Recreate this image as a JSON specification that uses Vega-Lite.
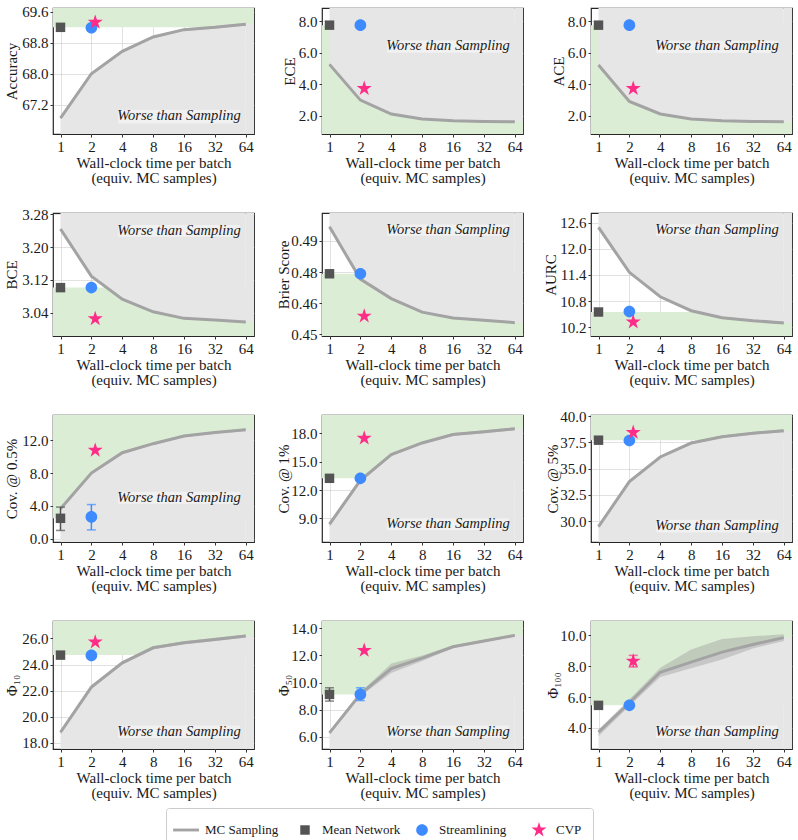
{
  "$schema": "https://vega.github.io/schema/vega-lite/v6.json",
  "padding": {"left": 3, "top": 4, "right": 5, "bottom": 4},
  "columns": 3,
  "bounds": "flush",
  "spacing": {"row": 79, "column": 68},
  "datasets": {
    "mc": [
      {"m": "acc", "x": 1, "y": 66.85, "lo": 66.82, "hi": 66.88},
      {"m": "acc", "x": 2, "y": 68.0, "lo": 67.97, "hi": 68.03},
      {"m": "acc", "x": 4, "y": 68.58, "lo": 68.55, "hi": 68.61},
      {"m": "acc", "x": 8, "y": 68.95, "lo": 68.92, "hi": 68.98},
      {"m": "acc", "x": 16, "y": 69.14, "lo": 69.11, "hi": 69.17},
      {"m": "acc", "x": 32, "y": 69.2, "lo": 69.17, "hi": 69.23},
      {"m": "acc", "x": 64, "y": 69.28, "lo": 69.25, "hi": 69.31},
      {"m": "ece", "x": 1, "y": 5.26, "lo": 5.21, "hi": 5.31},
      {"m": "ece", "x": 2, "y": 2.99, "lo": 2.94, "hi": 3.04},
      {"m": "ece", "x": 4, "y": 2.11, "lo": 2.06, "hi": 2.16},
      {"m": "ece", "x": 8, "y": 1.79, "lo": 1.74, "hi": 1.84},
      {"m": "ece", "x": 16, "y": 1.68, "lo": 1.63, "hi": 1.73},
      {"m": "ece", "x": 32, "y": 1.64, "lo": 1.59, "hi": 1.69},
      {"m": "ece", "x": 64, "y": 1.62, "lo": 1.57, "hi": 1.67},
      {"m": "ace", "x": 1, "y": 5.22, "lo": 5.17, "hi": 5.27},
      {"m": "ace", "x": 2, "y": 2.91, "lo": 2.86, "hi": 2.96},
      {"m": "ace", "x": 4, "y": 2.11, "lo": 2.06, "hi": 2.16},
      {"m": "ace", "x": 8, "y": 1.79, "lo": 1.74, "hi": 1.84},
      {"m": "ace", "x": 16, "y": 1.68, "lo": 1.63, "hi": 1.73},
      {"m": "ace", "x": 32, "y": 1.64, "lo": 1.59, "hi": 1.69},
      {"m": "ace", "x": 64, "y": 1.62, "lo": 1.57, "hi": 1.67},
      {"m": "bce", "x": 1, "y": 3.244, "lo": 3.242, "hi": 3.246},
      {"m": "bce", "x": 2, "y": 3.129, "lo": 3.127, "hi": 3.131},
      {"m": "bce", "x": 4, "y": 3.073, "lo": 3.071, "hi": 3.075},
      {"m": "bce", "x": 8, "y": 3.042, "lo": 3.04, "hi": 3.044},
      {"m": "bce", "x": 16, "y": 3.026, "lo": 3.024, "hi": 3.028},
      {"m": "bce", "x": 32, "y": 3.022, "lo": 3.02, "hi": 3.024},
      {"m": "bce", "x": 64, "y": 3.017, "lo": 3.015, "hi": 3.019},
      {"m": "brier", "x": 1, "y": 0.4957, "lo": 0.4953, "hi": 0.4961},
      {"m": "brier", "x": 2, "y": 0.4742, "lo": 0.4738, "hi": 0.4746},
      {"m": "brier", "x": 4, "y": 0.4662, "lo": 0.4658, "hi": 0.4666},
      {"m": "brier", "x": 8, "y": 0.4606, "lo": 0.4602, "hi": 0.461},
      {"m": "brier", "x": 16, "y": 0.4582, "lo": 0.4578, "hi": 0.4586},
      {"m": "brier", "x": 32, "y": 0.4573, "lo": 0.4569, "hi": 0.4577},
      {"m": "brier", "x": 64, "y": 0.4563, "lo": 0.4559, "hi": 0.4567},
      {"m": "aurc", "x": 1, "y": 12.49, "lo": 12.465, "hi": 12.515},
      {"m": "aurc", "x": 2, "y": 11.46, "lo": 11.435, "hi": 11.485},
      {"m": "aurc", "x": 4, "y": 10.9, "lo": 10.875, "hi": 10.925},
      {"m": "aurc", "x": 8, "y": 10.58, "lo": 10.555, "hi": 10.605},
      {"m": "aurc", "x": 16, "y": 10.42, "lo": 10.395, "hi": 10.445},
      {"m": "aurc", "x": 32, "y": 10.35, "lo": 10.325, "hi": 10.375},
      {"m": "aurc", "x": 64, "y": 10.3, "lo": 10.275, "hi": 10.325},
      {"m": "cov05", "x": 1, "y": 3.66, "lo": 3.51, "hi": 3.81},
      {"m": "cov05", "x": 2, "y": 8.0, "lo": 7.85, "hi": 8.15},
      {"m": "cov05", "x": 4, "y": 10.49, "lo": 10.34, "hi": 10.64},
      {"m": "cov05", "x": 8, "y": 11.59, "lo": 11.44, "hi": 11.74},
      {"m": "cov05", "x": 16, "y": 12.53, "lo": 12.38, "hi": 12.68},
      {"m": "cov05", "x": 32, "y": 12.94, "lo": 12.79, "hi": 13.09},
      {"m": "cov05", "x": 64, "y": 13.3, "lo": 13.15, "hi": 13.45},
      {"m": "cov1", "x": 1, "y": 8.4, "lo": 8.1, "hi": 8.6},
      {"m": "cov1", "x": 2, "y": 13.03, "lo": 12.85, "hi": 13.2},
      {"m": "cov1", "x": 4, "y": 15.76, "lo": 15.61, "hi": 15.91},
      {"m": "cov1", "x": 8, "y": 17.0, "lo": 16.85, "hi": 17.15},
      {"m": "cov1", "x": 16, "y": 17.9, "lo": 17.75, "hi": 18.05},
      {"m": "cov1", "x": 32, "y": 18.18, "lo": 18.03, "hi": 18.33},
      {"m": "cov1", "x": 64, "y": 18.5, "lo": 18.35, "hi": 18.65},
      {"m": "cov5", "x": 1, "y": 29.47, "lo": 29.3, "hi": 29.62},
      {"m": "cov5", "x": 2, "y": 33.75, "lo": 33.63, "hi": 33.87},
      {"m": "cov5", "x": 4, "y": 36.1, "lo": 35.98, "hi": 36.22},
      {"m": "cov5", "x": 8, "y": 37.43, "lo": 37.31, "hi": 37.55},
      {"m": "cov5", "x": 16, "y": 38.03, "lo": 37.91, "hi": 38.15},
      {"m": "cov5", "x": 32, "y": 38.36, "lo": 38.24, "hi": 38.48},
      {"m": "cov5", "x": 64, "y": 38.6, "lo": 38.45, "hi": 38.75},
      {"m": "phi10", "x": 1, "y": 18.82, "lo": 18.65, "hi": 18.97},
      {"m": "phi10", "x": 2, "y": 22.27, "lo": 22.12, "hi": 22.42},
      {"m": "phi10", "x": 4, "y": 24.13, "lo": 24.01, "hi": 24.25},
      {"m": "phi10", "x": 8, "y": 25.28, "lo": 25.16, "hi": 25.4},
      {"m": "phi10", "x": 16, "y": 25.67, "lo": 25.55, "hi": 25.79},
      {"m": "phi10", "x": 32, "y": 25.92, "lo": 25.8, "hi": 26.04},
      {"m": "phi10", "x": 64, "y": 26.18, "lo": 26.06, "hi": 26.3},
      {"m": "phi50", "x": 1, "y": 6.3, "lo": 6.2, "hi": 6.4},
      {"m": "phi50", "x": 2, "y": 9.16, "lo": 9.0, "hi": 9.3},
      {"m": "phi50", "x": 4, "y": 11.03, "lo": 10.7, "hi": 11.4},
      {"m": "phi50", "x": 8, "y": 11.8, "lo": 11.6, "hi": 12.0},
      {"m": "phi50", "x": 16, "y": 12.64, "lo": 12.55, "hi": 12.75},
      {"m": "phi50", "x": 32, "y": 13.06, "lo": 12.98, "hi": 13.15},
      {"m": "phi50", "x": 64, "y": 13.48, "lo": 13.4, "hi": 13.57},
      {"m": "phi100", "x": 1, "y": 3.72, "lo": 3.46, "hi": 3.9},
      {"m": "phi100", "x": 2, "y": 5.63, "lo": 5.42, "hi": 5.85},
      {"m": "phi100", "x": 4, "y": 7.61, "lo": 7.3, "hi": 7.9},
      {"m": "phi100", "x": 8, "y": 8.26, "lo": 7.87, "hi": 9.08},
      {"m": "phi100", "x": 16, "y": 8.91, "lo": 8.43, "hi": 9.77},
      {"m": "phi100", "x": 32, "y": 9.41, "lo": 9.15, "hi": 9.94},
      {"m": "phi100", "x": 64, "y": 9.85, "lo": 9.63, "hi": 10.07}
    ],
    "pts": [
      {"m": "acc", "s": "Mean Network", "x": 1, "y": 69.2},
      {"m": "acc", "s": "Streamlining", "x": 2, "y": 69.19},
      {"m": "acc", "s": "CVP", "x": 2.18, "y": 69.33},
      {"m": "ece", "s": "Mean Network", "x": 1, "y": 7.75},
      {"m": "ece", "s": "Streamlining", "x": 2, "y": 7.75},
      {"m": "ece", "s": "CVP", "x": 2.18, "y": 3.73},
      {"m": "ace", "s": "Mean Network", "x": 1, "y": 7.75},
      {"m": "ace", "s": "Streamlining", "x": 2, "y": 7.75},
      {"m": "ace", "s": "CVP", "x": 2.18, "y": 3.73},
      {"m": "bce", "s": "Mean Network", "x": 1, "y": 3.101},
      {"m": "bce", "s": "Streamlining", "x": 2, "y": 3.101},
      {"m": "bce", "s": "CVP", "x": 2.18, "y": 3.025},
      {"m": "brier", "s": "Mean Network", "x": 1, "y": 0.4764},
      {"m": "brier", "s": "Streamlining", "x": 2, "y": 0.4764},
      {"m": "brier", "s": "CVP", "x": 2.18, "y": 0.459},
      {"m": "aurc", "s": "Mean Network", "x": 1, "y": 10.55},
      {"m": "aurc", "s": "Streamlining", "x": 2, "y": 10.56},
      {"m": "aurc", "s": "CVP", "x": 2.18, "y": 10.32},
      {"m": "cov05", "s": "Mean Network", "x": 1, "y": 2.48, "lo": 1.0, "hi": 3.85},
      {"m": "cov05", "s": "Streamlining", "x": 2, "y": 2.65, "lo": 1.07, "hi": 4.16},
      {"m": "cov05", "s": "CVP", "x": 2.18, "y": 10.78},
      {"m": "cov1", "s": "Mean Network", "x": 1, "y": 13.25},
      {"m": "cov1", "s": "Streamlining", "x": 2, "y": 13.25},
      {"m": "cov1", "s": "CVP", "x": 2.18, "y": 17.5},
      {"m": "cov5", "s": "Mean Network", "x": 1, "y": 37.7},
      {"m": "cov5", "s": "Streamlining", "x": 2, "y": 37.67},
      {"m": "cov5", "s": "CVP", "x": 2.18, "y": 38.43},
      {"m": "phi10", "s": "Mean Network", "x": 1, "y": 24.72},
      {"m": "phi10", "s": "Streamlining", "x": 2, "y": 24.7},
      {"m": "phi10", "s": "CVP", "x": 2.18, "y": 25.72},
      {"m": "phi50", "s": "Mean Network", "x": 1, "y": 9.13, "lo": 8.64, "hi": 9.62},
      {"m": "phi50", "s": "Streamlining", "x": 2, "y": 9.13, "lo": 8.68, "hi": 9.62},
      {"m": "phi50", "s": "CVP", "x": 2.18, "y": 12.37},
      {"m": "phi100", "s": "Mean Network", "x": 1, "y": 5.46},
      {"m": "phi100", "s": "Streamlining", "x": 2, "y": 5.46},
      {"m": "phi100", "s": "CVP", "x": 2.18, "y": 8.33, "lo": 7.95, "hi": 8.7}
    ]
  },
  "concat": [
    {
      "width": 201, "height": 126,
      "encoding": {
        "x": {"field": "x", "type": "quantitative", "scale": {"type": "log", "base": 2, "domain": [0.845, 77], "nice": false}, "axis": {"values": [1, 2, 4, 8, 16, 32, 64], "format": "d", "title": ["Wall-clock time per batch", "(equiv. MC samples)"]}},
        "y": {"field": "y", "type": "quantitative", "scale": {"domain": [66.44, 69.7], "nice": false, "zero": false}, "axis": {"values": [67.2, 68.0, 68.8, 69.6], "format": ".1f", "title": "Accuracy", "minExtent": 30, "maxExtent": 30, "titlePadding": 3.5}}
      },
      "layer": [
        {"data": {"name": "pts"}, "transform": [{"filter": "datum.m == 'acc' && datum.s == 'Mean Network'"}], "mark": {"type": "rect", "color": "#dcedd6"}, "encoding": {"x": {"datum": 0.845}, "x2": {"datum": 77}, "y2": {"datum": 69.7}}},
        {"data": {"name": "mc"}, "transform": [{"filter": "datum.m == 'acc'"}], "mark": {"type": "area", "color": "#e6e6e6", "opacity": 1}, "encoding": {"y2": {"datum": 66.44}}},
        {"data": {"name": "mc"}, "transform": [{"filter": "datum.m == 'acc' && datum.x == 64"}], "mark": {"type": "rect", "color": "#e6e6e6"}, "encoding": {"x2": {"datum": 77}, "y2": {"datum": 66.44}}},
        {"data": {"name": "mc"}, "transform": [{"filter": "datum.m == 'acc' && datum.x == 64"}], "mark": {"type": "rect", "color": "#ffffff", "opacity": 0.45}, "encoding": {"x": {"datum": 3.65}, "x2": {"datum": 56}, "y": {"datum": 66.71}, "y2": {"datum": 67.07}}},
        {"data": {"name": "mc"}, "transform": [{"filter": "datum.m == 'acc' && datum.x == 64"}], "mark": {"type": "text", "font": "Liberation Serif", "fontStyle": "italic", "fontSize": 14.5, "color": "#1a1a1a"}, "encoding": {"x": {"datum": 14.3}, "y": {"datum": 66.9}, "text": {"value": "Worse than Sampling"}}},
        {"data": {"name": "mc"}, "transform": [{"filter": "datum.m == 'acc'"}], "mark": {"type": "area", "color": "#8c8c8c", "opacity": 0.35}, "encoding": {"y": {"field": "lo", "type": "quantitative"}, "y2": {"field": "hi"}}},
        {"data": {"name": "mc"}, "transform": [{"filter": "datum.m == 'acc'"}], "mark": {"type": "line", "color": "#a3a3a3", "strokeWidth": 3}, "encoding": {}},
        {"data": {"name": "pts"}, "transform": [{"filter": "datum.m == 'acc'"}], "mark": {"type": "point", "filled": true, "opacity": 1, "size": 484},
          "encoding": {
            "color": {"field": "s", "type": "nominal", "scale": {"domain": ["MC Sampling", "Mean Network", "Streamlining", "CVP"], "range": ["#a3a3a3", "#545454", "#3d8bff", "#ff2d87"]},
              "legend": {"orient": "none", "legendX": 113, "legendY": 800, "direction": "horizontal", "columns": 4, "gridAlign": "all", "title": null, "labelFontSize": 13, "labelOffset": 6, "columnPadding": 10, "padding": 11, "strokeColor": "#cccccc", "fillColor": "#ffffff", "cornerRadius": 3, "symbolSize": 484, "symbolStrokeWidth": 0, "symbolOpacity": 1}},
            "shape": {"field": "s", "type": "nominal", "scale": {"domain": ["MC Sampling", "Mean Network", "Streamlining", "CVP"], "range": ["M-1.35,-0.13H1V0.13H-1.35Z", "M-0.43,-0.43H0.43V0.43H-0.43Z", "M0.53,0A0.53,0.53,0,1,1,-0.53,0A0.53,0.53,0,1,1,0.53,0Z", "M0,-0.72L0.162,-0.222L0.685,-0.222L0.262,0.085L0.423,0.582L0,0.275L-0.423,0.582L-0.262,0.085L-0.685,-0.222L-0.162,-0.222Z"]},
              "legend": {"orient": "none", "legendX": 113, "legendY": 800, "direction": "horizontal", "columns": 4, "gridAlign": "all", "title": null, "labelFontSize": 13, "labelOffset": 6, "columnPadding": 10, "padding": 11, "strokeColor": "#cccccc", "fillColor": "#ffffff", "cornerRadius": 3, "symbolSize": 484, "symbolStrokeWidth": 0, "symbolOpacity": 1}}
          }}
      ]
    },
    {
      "width": 201, "height": 126,
      "encoding": {
        "x": {"field": "x", "type": "quantitative", "scale": {"type": "log", "base": 2, "domain": [0.845, 77], "nice": false}, "axis": {"values": [1, 2, 4, 8, 16, 32, 64], "format": "d", "title": ["Wall-clock time per batch", "(equiv. MC samples)"]}},
        "y": {"field": "y", "type": "quantitative", "scale": {"domain": [0.84, 8.84], "nice": false, "zero": false}, "axis": {"values": [2, 4, 6, 8], "format": ".1f", "title": "ECE", "minExtent": 23, "maxExtent": 23, "titlePadding": 2}}
      },
      "layer": [
        {"data": {"name": "pts"}, "transform": [{"filter": "datum.m == 'ece' && datum.s == 'Mean Network'"}], "mark": {"type": "rect", "color": "#dcedd6"}, "encoding": {"x": {"datum": 0.845}, "x2": {"datum": 77}, "y2": {"datum": 0.84}}},
        {"data": {"name": "mc"}, "transform": [{"filter": "datum.m == 'ece'"}], "mark": {"type": "area", "color": "#e6e6e6", "opacity": 1}, "encoding": {"y2": {"datum": 8.84}}},
        {"data": {"name": "mc"}, "transform": [{"filter": "datum.m == 'ece' && datum.x == 64"}], "mark": {"type": "rect", "color": "#e6e6e6"}, "encoding": {"x2": {"datum": 77}, "y2": {"datum": 8.84}}},
        {"data": {"name": "mc"}, "transform": [{"filter": "datum.m == 'ece' && datum.x == 64"}], "mark": {"type": "rect", "color": "#ffffff", "opacity": 0.45}, "encoding": {"x": {"datum": 3.65}, "x2": {"datum": 56}, "y": {"datum": 6.0}, "y2": {"datum": 6.78}}},
        {"data": {"name": "mc"}, "transform": [{"filter": "datum.m == 'ece' && datum.x == 64"}], "mark": {"type": "text", "font": "Liberation Serif", "fontStyle": "italic", "fontSize": 14.5, "color": "#1a1a1a"}, "encoding": {"x": {"datum": 14.3}, "y": {"datum": 6.42}, "text": {"value": "Worse than Sampling"}}},
        {"data": {"name": "mc"}, "transform": [{"filter": "datum.m == 'ece'"}], "mark": {"type": "area", "color": "#8c8c8c", "opacity": 0.35}, "encoding": {"y": {"field": "lo", "type": "quantitative"}, "y2": {"field": "hi"}}},
        {"data": {"name": "mc"}, "transform": [{"filter": "datum.m == 'ece'"}], "mark": {"type": "line", "color": "#a3a3a3", "strokeWidth": 3}, "encoding": {}},
        {"data": {"name": "pts"}, "transform": [{"filter": "datum.m == 'ece'"}], "mark": {"type": "point", "filled": true, "opacity": 1, "size": 484},
          "encoding": {
            "color": {"field": "s", "type": "nominal", "scale": {"domain": ["MC Sampling", "Mean Network", "Streamlining", "CVP"], "range": ["#a3a3a3", "#545454", "#3d8bff", "#ff2d87"]}, "legend": null},
            "shape": {"field": "s", "type": "nominal", "scale": {"domain": ["MC Sampling", "Mean Network", "Streamlining", "CVP"], "range": ["M-1.35,-0.13H1V0.13H-1.35Z", "M-0.43,-0.43H0.43V0.43H-0.43Z", "M0.53,0A0.53,0.53,0,1,1,-0.53,0A0.53,0.53,0,1,1,0.53,0Z", "M0,-0.72L0.162,-0.222L0.685,-0.222L0.262,0.085L0.423,0.582L0,0.275L-0.423,0.582L-0.262,0.085L-0.685,-0.222L-0.162,-0.222Z"]}, "legend": null}
          }}
      ]
    },
    {
      "width": 201, "height": 126,
      "encoding": {
        "x": {"field": "x", "type": "quantitative", "scale": {"type": "log", "base": 2, "domain": [0.845, 77], "nice": false}, "axis": {"values": [1, 2, 4, 8, 16, 32, 64], "format": "d", "title": ["Wall-clock time per batch", "(equiv. MC samples)"]}},
        "y": {"field": "y", "type": "quantitative", "scale": {"domain": [0.84, 8.84], "nice": false, "zero": false}, "axis": {"values": [2, 4, 6, 8], "format": ".1f", "title": "ACE", "minExtent": 23, "maxExtent": 23, "titlePadding": 2}}
      },
      "layer": [
        {"data": {"name": "pts"}, "transform": [{"filter": "datum.m == 'ace' && datum.s == 'Mean Network'"}], "mark": {"type": "rect", "color": "#dcedd6"}, "encoding": {"x": {"datum": 0.845}, "x2": {"datum": 77}, "y2": {"datum": 0.84}}},
        {"data": {"name": "mc"}, "transform": [{"filter": "datum.m == 'ace'"}], "mark": {"type": "area", "color": "#e6e6e6", "opacity": 1}, "encoding": {"y2": {"datum": 8.84}}},
        {"data": {"name": "mc"}, "transform": [{"filter": "datum.m == 'ace' && datum.x == 64"}], "mark": {"type": "rect", "color": "#e6e6e6"}, "encoding": {"x2": {"datum": 77}, "y2": {"datum": 8.84}}},
        {"data": {"name": "mc"}, "transform": [{"filter": "datum.m == 'ace' && datum.x == 64"}], "mark": {"type": "rect", "color": "#ffffff", "opacity": 0.45}, "encoding": {"x": {"datum": 3.65}, "x2": {"datum": 56}, "y": {"datum": 5.98}, "y2": {"datum": 6.76}}},
        {"data": {"name": "mc"}, "transform": [{"filter": "datum.m == 'ace' && datum.x == 64"}], "mark": {"type": "text", "font": "Liberation Serif", "fontStyle": "italic", "fontSize": 14.5, "color": "#1a1a1a"}, "encoding": {"x": {"datum": 14.3}, "y": {"datum": 6.4}, "text": {"value": "Worse than Sampling"}}},
        {"data": {"name": "mc"}, "transform": [{"filter": "datum.m == 'ace'"}], "mark": {"type": "area", "color": "#8c8c8c", "opacity": 0.35}, "encoding": {"y": {"field": "lo", "type": "quantitative"}, "y2": {"field": "hi"}}},
        {"data": {"name": "mc"}, "transform": [{"filter": "datum.m == 'ace'"}], "mark": {"type": "line", "color": "#a3a3a3", "strokeWidth": 3}, "encoding": {}},
        {"data": {"name": "pts"}, "transform": [{"filter": "datum.m == 'ace'"}], "mark": {"type": "point", "filled": true, "opacity": 1, "size": 484},
          "encoding": {
            "color": {"field": "s", "type": "nominal", "scale": {"domain": ["MC Sampling", "Mean Network", "Streamlining", "CVP"], "range": ["#a3a3a3", "#545454", "#3d8bff", "#ff2d87"]}, "legend": null},
            "shape": {"field": "s", "type": "nominal", "scale": {"domain": ["MC Sampling", "Mean Network", "Streamlining", "CVP"], "range": ["M-1.35,-0.13H1V0.13H-1.35Z", "M-0.43,-0.43H0.43V0.43H-0.43Z", "M0.53,0A0.53,0.53,0,1,1,-0.53,0A0.53,0.53,0,1,1,0.53,0Z", "M0,-0.72L0.162,-0.222L0.685,-0.222L0.262,0.085L0.423,0.582L0,0.275L-0.423,0.582L-0.262,0.085L-0.685,-0.222L-0.162,-0.222Z"]}, "legend": null}
          }}
      ]
    },
    {
      "width": 201, "height": 123,
      "encoding": {
        "x": {"field": "x", "type": "quantitative", "scale": {"type": "log", "base": 2, "domain": [0.845, 77], "nice": false}, "axis": {"values": [1, 2, 4, 8, 16, 32, 64], "format": "d", "title": ["Wall-clock time per batch", "(equiv. MC samples)"]}},
        "y": {"field": "y", "type": "quantitative", "scale": {"domain": [2.983, 3.283], "nice": false, "zero": false}, "axis": {"values": [3.04, 3.12, 3.2, 3.28], "format": ".2f", "title": "BCE", "minExtent": 30, "maxExtent": 30, "titlePadding": 3.5}}
      },
      "layer": [
        {"data": {"name": "pts"}, "transform": [{"filter": "datum.m == 'bce' && datum.s == 'Mean Network'"}], "mark": {"type": "rect", "color": "#dcedd6"}, "encoding": {"x": {"datum": 0.845}, "x2": {"datum": 77}, "y2": {"datum": 2.983}}},
        {"data": {"name": "mc"}, "transform": [{"filter": "datum.m == 'bce'"}], "mark": {"type": "area", "color": "#e6e6e6", "opacity": 1}, "encoding": {"y2": {"datum": 3.283}}},
        {"data": {"name": "mc"}, "transform": [{"filter": "datum.m == 'bce' && datum.x == 64"}], "mark": {"type": "rect", "color": "#e6e6e6"}, "encoding": {"x2": {"datum": 77}, "y2": {"datum": 3.283}}},
        {"data": {"name": "mc"}, "transform": [{"filter": "datum.m == 'bce' && datum.x == 64"}], "mark": {"type": "rect", "color": "#ffffff", "opacity": 0.45}, "encoding": {"x": {"datum": 3.65}, "x2": {"datum": 56}, "y": {"datum": 3.225}, "y2": {"datum": 3.254}}},
        {"data": {"name": "mc"}, "transform": [{"filter": "datum.m == 'bce' && datum.x == 64"}], "mark": {"type": "text", "font": "Liberation Serif", "fontStyle": "italic", "fontSize": 14.5, "color": "#1a1a1a"}, "encoding": {"x": {"datum": 14.3}, "y": {"datum": 3.24}, "text": {"value": "Worse than Sampling"}}},
        {"data": {"name": "mc"}, "transform": [{"filter": "datum.m == 'bce'"}], "mark": {"type": "area", "color": "#8c8c8c", "opacity": 0.35}, "encoding": {"y": {"field": "lo", "type": "quantitative"}, "y2": {"field": "hi"}}},
        {"data": {"name": "mc"}, "transform": [{"filter": "datum.m == 'bce'"}], "mark": {"type": "line", "color": "#a3a3a3", "strokeWidth": 3}, "encoding": {}},
        {"data": {"name": "pts"}, "transform": [{"filter": "datum.m == 'bce'"}], "mark": {"type": "point", "filled": true, "opacity": 1, "size": 484},
          "encoding": {
            "color": {"field": "s", "type": "nominal", "scale": {"domain": ["MC Sampling", "Mean Network", "Streamlining", "CVP"], "range": ["#a3a3a3", "#545454", "#3d8bff", "#ff2d87"]}, "legend": null},
            "shape": {"field": "s", "type": "nominal", "scale": {"domain": ["MC Sampling", "Mean Network", "Streamlining", "CVP"], "range": ["M-1.35,-0.13H1V0.13H-1.35Z", "M-0.43,-0.43H0.43V0.43H-0.43Z", "M0.53,0A0.53,0.53,0,1,1,-0.53,0A0.53,0.53,0,1,1,0.53,0Z", "M0,-0.72L0.162,-0.222L0.685,-0.222L0.262,0.085L0.423,0.582L0,0.275L-0.423,0.582L-0.262,0.085L-0.685,-0.222L-0.162,-0.222Z"]}, "legend": null}
          }}
      ]
    },
    {
      "width": 201, "height": 123,
      "encoding": {
        "x": {"field": "x", "type": "quantitative", "scale": {"type": "log", "base": 2, "domain": [0.845, 77], "nice": false}, "axis": {"values": [1, 2, 4, 8, 16, 32, 64], "format": "d", "title": ["Wall-clock time per batch", "(equiv. MC samples)"]}},
        "y": {"field": "y", "type": "quantitative", "scale": {"domain": [0.4508, 0.5014], "nice": false, "zero": false}, "axis": {"values": [0.4515, 0.4643, 0.4771, 0.4899], "format": ".2f", "title": "Brier Score", "minExtent": 29, "maxExtent": 29, "titlePadding": 2}}
      },
      "layer": [
        {"data": {"name": "pts"}, "transform": [{"filter": "datum.m == 'brier' && datum.s == 'Mean Network'"}], "mark": {"type": "rect", "color": "#dcedd6"}, "encoding": {"x": {"datum": 0.845}, "x2": {"datum": 77}, "y2": {"datum": 0.4508}}},
        {"data": {"name": "mc"}, "transform": [{"filter": "datum.m == 'brier'"}], "mark": {"type": "area", "color": "#e6e6e6", "opacity": 1}, "encoding": {"y2": {"datum": 0.5014}}},
        {"data": {"name": "mc"}, "transform": [{"filter": "datum.m == 'brier' && datum.x == 64"}], "mark": {"type": "rect", "color": "#e6e6e6"}, "encoding": {"x2": {"datum": 77}, "y2": {"datum": 0.5014}}},
        {"data": {"name": "mc"}, "transform": [{"filter": "datum.m == 'brier' && datum.x == 64"}], "mark": {"type": "rect", "color": "#ffffff", "opacity": 0.45}, "encoding": {"x": {"datum": 3.65}, "x2": {"datum": 56}, "y": {"datum": 0.492}, "y2": {"datum": 0.4967}}},
        {"data": {"name": "mc"}, "transform": [{"filter": "datum.m == 'brier' && datum.x == 64"}], "mark": {"type": "text", "font": "Liberation Serif", "fontStyle": "italic", "fontSize": 14.5, "color": "#1a1a1a"}, "encoding": {"x": {"datum": 14.3}, "y": {"datum": 0.4945}, "text": {"value": "Worse than Sampling"}}},
        {"data": {"name": "mc"}, "transform": [{"filter": "datum.m == 'brier'"}], "mark": {"type": "area", "color": "#8c8c8c", "opacity": 0.35}, "encoding": {"y": {"field": "lo", "type": "quantitative"}, "y2": {"field": "hi"}}},
        {"data": {"name": "mc"}, "transform": [{"filter": "datum.m == 'brier'"}], "mark": {"type": "line", "color": "#a3a3a3", "strokeWidth": 3}, "encoding": {}},
        {"data": {"name": "pts"}, "transform": [{"filter": "datum.m == 'brier'"}], "mark": {"type": "point", "filled": true, "opacity": 1, "size": 484},
          "encoding": {
            "color": {"field": "s", "type": "nominal", "scale": {"domain": ["MC Sampling", "Mean Network", "Streamlining", "CVP"], "range": ["#a3a3a3", "#545454", "#3d8bff", "#ff2d87"]}, "legend": null},
            "shape": {"field": "s", "type": "nominal", "scale": {"domain": ["MC Sampling", "Mean Network", "Streamlining", "CVP"], "range": ["M-1.35,-0.13H1V0.13H-1.35Z", "M-0.43,-0.43H0.43V0.43H-0.43Z", "M0.53,0A0.53,0.53,0,1,1,-0.53,0A0.53,0.53,0,1,1,0.53,0Z", "M0,-0.72L0.162,-0.222L0.685,-0.222L0.262,0.085L0.423,0.582L0,0.275L-0.423,0.582L-0.262,0.085L-0.685,-0.222L-0.162,-0.222Z"]}, "legend": null}
          }}
      ]
    },
    {
      "width": 201, "height": 123,
      "encoding": {
        "x": {"field": "x", "type": "quantitative", "scale": {"type": "log", "base": 2, "domain": [0.845, 77], "nice": false}, "axis": {"values": [1, 2, 4, 8, 16, 32, 64], "format": "d", "title": ["Wall-clock time per batch", "(equiv. MC samples)"]}},
        "y": {"field": "y", "type": "quantitative", "scale": {"domain": [10.0, 12.82], "nice": false, "zero": false}, "axis": {"values": [10.2, 10.8, 11.4, 12.0, 12.6], "format": ".1f", "title": "AURC", "minExtent": 31, "maxExtent": 31, "titlePadding": 2}}
      },
      "layer": [
        {"data": {"name": "pts"}, "transform": [{"filter": "datum.m == 'aurc' && datum.s == 'Mean Network'"}], "mark": {"type": "rect", "color": "#dcedd6"}, "encoding": {"x": {"datum": 0.845}, "x2": {"datum": 77}, "y2": {"datum": 10.0}}},
        {"data": {"name": "mc"}, "transform": [{"filter": "datum.m == 'aurc'"}], "mark": {"type": "area", "color": "#e6e6e6", "opacity": 1}, "encoding": {"y2": {"datum": 12.82}}},
        {"data": {"name": "mc"}, "transform": [{"filter": "datum.m == 'aurc' && datum.x == 64"}], "mark": {"type": "rect", "color": "#e6e6e6"}, "encoding": {"x2": {"datum": 77}, "y2": {"datum": 12.82}}},
        {"data": {"name": "mc"}, "transform": [{"filter": "datum.m == 'aurc' && datum.x == 64"}], "mark": {"type": "rect", "color": "#ffffff", "opacity": 0.45}, "encoding": {"x": {"datum": 3.65}, "x2": {"datum": 56}, "y": {"datum": 12.3}, "y2": {"datum": 12.56}}},
        {"data": {"name": "mc"}, "transform": [{"filter": "datum.m == 'aurc' && datum.x == 64"}], "mark": {"type": "text", "font": "Liberation Serif", "fontStyle": "italic", "fontSize": 14.5, "color": "#1a1a1a"}, "encoding": {"x": {"datum": 14.3}, "y": {"datum": 12.44}, "text": {"value": "Worse than Sampling"}}},
        {"data": {"name": "mc"}, "transform": [{"filter": "datum.m == 'aurc'"}], "mark": {"type": "area", "color": "#8c8c8c", "opacity": 0.35}, "encoding": {"y": {"field": "lo", "type": "quantitative"}, "y2": {"field": "hi"}}},
        {"data": {"name": "mc"}, "transform": [{"filter": "datum.m == 'aurc'"}], "mark": {"type": "line", "color": "#a3a3a3", "strokeWidth": 3}, "encoding": {}},
        {"data": {"name": "pts"}, "transform": [{"filter": "datum.m == 'aurc'"}], "mark": {"type": "point", "filled": true, "opacity": 1, "size": 484},
          "encoding": {
            "color": {"field": "s", "type": "nominal", "scale": {"domain": ["MC Sampling", "Mean Network", "Streamlining", "CVP"], "range": ["#a3a3a3", "#545454", "#3d8bff", "#ff2d87"]}, "legend": null},
            "shape": {"field": "s", "type": "nominal", "scale": {"domain": ["MC Sampling", "Mean Network", "Streamlining", "CVP"], "range": ["M-1.35,-0.13H1V0.13H-1.35Z", "M-0.43,-0.43H0.43V0.43H-0.43Z", "M0.53,0A0.53,0.53,0,1,1,-0.53,0A0.53,0.53,0,1,1,0.53,0Z", "M0,-0.72L0.162,-0.222L0.685,-0.222L0.262,0.085L0.423,0.582L0,0.275L-0.423,0.582L-0.262,0.085L-0.685,-0.222L-0.162,-0.222Z"]}, "legend": null}
          }}
      ]
    },
    {
      "width": 201, "height": 127,
      "encoding": {
        "x": {"field": "x", "type": "quantitative", "scale": {"type": "log", "base": 2, "domain": [0.845, 77], "nice": false}, "axis": {"values": [1, 2, 4, 8, 16, 32, 64], "format": "d", "title": ["Wall-clock time per batch", "(equiv. MC samples)"]}},
        "y": {"field": "y", "type": "quantitative", "scale": {"domain": [-0.41, 15.09], "nice": false, "zero": false}, "axis": {"values": [0, 4, 8, 12], "format": ".1f", "title": "Cov. @ 0.5%", "minExtent": 30, "maxExtent": 30, "titlePadding": 3.5}}
      },
      "layer": [
        {"data": {"name": "pts"}, "transform": [{"filter": "datum.m == 'cov05' && datum.s == 'Mean Network'"}], "mark": {"type": "rect", "color": "#dcedd6"}, "encoding": {"x": {"datum": 0.845}, "x2": {"datum": 77}, "y2": {"datum": 15.09}}},
        {"data": {"name": "mc"}, "transform": [{"filter": "datum.m == 'cov05'"}], "mark": {"type": "area", "color": "#e6e6e6", "opacity": 1}, "encoding": {"y2": {"datum": -0.41}}},
        {"data": {"name": "mc"}, "transform": [{"filter": "datum.m == 'cov05' && datum.x == 64"}], "mark": {"type": "rect", "color": "#e6e6e6"}, "encoding": {"x2": {"datum": 77}, "y2": {"datum": -0.41}}},
        {"data": {"name": "mc"}, "transform": [{"filter": "datum.m == 'cov05' && datum.x == 64"}], "mark": {"type": "rect", "color": "#ffffff", "opacity": 0.45}, "encoding": {"x": {"datum": 3.65}, "x2": {"datum": 56}, "y": {"datum": 4.26}, "y2": {"datum": 5.73}}},
        {"data": {"name": "mc"}, "transform": [{"filter": "datum.m == 'cov05' && datum.x == 64"}], "mark": {"type": "text", "font": "Liberation Serif", "fontStyle": "italic", "fontSize": 14.5, "color": "#1a1a1a"}, "encoding": {"x": {"datum": 14.3}, "y": {"datum": 5.0}, "text": {"value": "Worse than Sampling"}}},
        {"data": {"name": "mc"}, "transform": [{"filter": "datum.m == 'cov05'"}], "mark": {"type": "area", "color": "#8c8c8c", "opacity": 0.35}, "encoding": {"y": {"field": "lo", "type": "quantitative"}, "y2": {"field": "hi"}}},
        {"data": {"name": "mc"}, "transform": [{"filter": "datum.m == 'cov05'"}], "mark": {"type": "line", "color": "#a3a3a3", "strokeWidth": 3}, "encoding": {}},
        {"data": {"name": "pts"}, "transform": [{"filter": "datum.m == 'cov05' && isValid(datum.lo)"}], "mark": {"type": "errorbar", "ticks": {"size": 9, "thickness": 1.5}, "rule": {"strokeWidth": 1.5}},
          "encoding": {"y": {"field": "lo", "type": "quantitative"}, "y2": {"field": "hi"},
            "color": {"field": "s", "type": "nominal", "scale": {"domain": ["MC Sampling", "Mean Network", "Streamlining", "CVP"], "range": ["#a3a3a3", "#545454", "#3d8bff", "#ff2d87"]}, "legend": null}}},
        {"data": {"name": "pts"}, "transform": [{"filter": "datum.m == 'cov05'"}], "mark": {"type": "point", "filled": true, "opacity": 1, "size": 484},
          "encoding": {
            "color": {"field": "s", "type": "nominal", "scale": {"domain": ["MC Sampling", "Mean Network", "Streamlining", "CVP"], "range": ["#a3a3a3", "#545454", "#3d8bff", "#ff2d87"]}, "legend": null},
            "shape": {"field": "s", "type": "nominal", "scale": {"domain": ["MC Sampling", "Mean Network", "Streamlining", "CVP"], "range": ["M-1.35,-0.13H1V0.13H-1.35Z", "M-0.43,-0.43H0.43V0.43H-0.43Z", "M0.53,0A0.53,0.53,0,1,1,-0.53,0A0.53,0.53,0,1,1,0.53,0Z", "M0,-0.72L0.162,-0.222L0.685,-0.222L0.262,0.085L0.423,0.582L0,0.275L-0.423,0.582L-0.262,0.085L-0.685,-0.222L-0.162,-0.222Z"]}, "legend": null}
          }}
      ]
    },
    {
      "width": 201, "height": 127,
      "encoding": {
        "x": {"field": "x", "type": "quantitative", "scale": {"type": "log", "base": 2, "domain": [0.845, 77], "nice": false}, "axis": {"values": [1, 2, 4, 8, 16, 32, 64], "format": "d", "title": ["Wall-clock time per batch", "(equiv. MC samples)"]}},
        "y": {"field": "y", "type": "quantitative", "scale": {"domain": [6.5, 19.96], "nice": false, "zero": false}, "axis": {"values": [9, 12, 15, 18], "format": ".1f", "title": "Cov. @ 1%", "minExtent": 29, "maxExtent": 29, "titlePadding": 2}}
      },
      "layer": [
        {"data": {"name": "pts"}, "transform": [{"filter": "datum.m == 'cov1' && datum.s == 'Mean Network'"}], "mark": {"type": "rect", "color": "#dcedd6"}, "encoding": {"x": {"datum": 0.845}, "x2": {"datum": 77}, "y2": {"datum": 19.96}}},
        {"data": {"name": "mc"}, "transform": [{"filter": "datum.m == 'cov1'"}], "mark": {"type": "area", "color": "#e6e6e6", "opacity": 1}, "encoding": {"y2": {"datum": 6.5}}},
        {"data": {"name": "mc"}, "transform": [{"filter": "datum.m == 'cov1' && datum.x == 64"}], "mark": {"type": "rect", "color": "#e6e6e6"}, "encoding": {"x2": {"datum": 77}, "y2": {"datum": 6.5}}},
        {"data": {"name": "mc"}, "transform": [{"filter": "datum.m == 'cov1' && datum.x == 64"}], "mark": {"type": "rect", "color": "#ffffff", "opacity": 0.45}, "encoding": {"x": {"datum": 3.65}, "x2": {"datum": 56}, "y": {"datum": 7.75}, "y2": {"datum": 9.03}}},
        {"data": {"name": "mc"}, "transform": [{"filter": "datum.m == 'cov1' && datum.x == 64"}], "mark": {"type": "text", "font": "Liberation Serif", "fontStyle": "italic", "fontSize": 14.5, "color": "#1a1a1a"}, "encoding": {"x": {"datum": 14.3}, "y": {"datum": 8.4}, "text": {"value": "Worse than Sampling"}}},
        {"data": {"name": "mc"}, "transform": [{"filter": "datum.m == 'cov1'"}], "mark": {"type": "area", "color": "#8c8c8c", "opacity": 0.35}, "encoding": {"y": {"field": "lo", "type": "quantitative"}, "y2": {"field": "hi"}}},
        {"data": {"name": "mc"}, "transform": [{"filter": "datum.m == 'cov1'"}], "mark": {"type": "line", "color": "#a3a3a3", "strokeWidth": 3}, "encoding": {}},
        {"data": {"name": "pts"}, "transform": [{"filter": "datum.m == 'cov1'"}], "mark": {"type": "point", "filled": true, "opacity": 1, "size": 484},
          "encoding": {
            "color": {"field": "s", "type": "nominal", "scale": {"domain": ["MC Sampling", "Mean Network", "Streamlining", "CVP"], "range": ["#a3a3a3", "#545454", "#3d8bff", "#ff2d87"]}, "legend": null},
            "shape": {"field": "s", "type": "nominal", "scale": {"domain": ["MC Sampling", "Mean Network", "Streamlining", "CVP"], "range": ["M-1.35,-0.13H1V0.13H-1.35Z", "M-0.43,-0.43H0.43V0.43H-0.43Z", "M0.53,0A0.53,0.53,0,1,1,-0.53,0A0.53,0.53,0,1,1,0.53,0Z", "M0,-0.72L0.162,-0.222L0.685,-0.222L0.262,0.085L0.423,0.582L0,0.275L-0.423,0.582L-0.262,0.085L-0.685,-0.222L-0.162,-0.222Z"]}, "legend": null}
          }}
      ]
    },
    {
      "width": 201, "height": 127,
      "encoding": {
        "x": {"field": "x", "type": "quantitative", "scale": {"type": "log", "base": 2, "domain": [0.845, 77], "nice": false}, "axis": {"values": [1, 2, 4, 8, 16, 32, 64], "format": "d", "title": ["Wall-clock time per batch", "(equiv. MC samples)"]}},
        "y": {"field": "y", "type": "quantitative", "scale": {"domain": [28.0, 40.1], "nice": false, "zero": false}, "axis": {"values": [30, 32.5, 35, 37.5, 40], "format": ".1f", "title": "Cov. @ 5%", "minExtent": 29, "maxExtent": 29, "titlePadding": 2}}
      },
      "layer": [
        {"data": {"name": "pts"}, "transform": [{"filter": "datum.m == 'cov5' && datum.s == 'Mean Network'"}], "mark": {"type": "rect", "color": "#dcedd6"}, "encoding": {"x": {"datum": 0.845}, "x2": {"datum": 77}, "y2": {"datum": 40.1}}},
        {"data": {"name": "mc"}, "transform": [{"filter": "datum.m == 'cov5'"}], "mark": {"type": "area", "color": "#e6e6e6", "opacity": 1}, "encoding": {"y2": {"datum": 28.0}}},
        {"data": {"name": "mc"}, "transform": [{"filter": "datum.m == 'cov5' && datum.x == 64"}], "mark": {"type": "rect", "color": "#e6e6e6"}, "encoding": {"x2": {"datum": 77}, "y2": {"datum": 28.0}}},
        {"data": {"name": "mc"}, "transform": [{"filter": "datum.m == 'cov5' && datum.x == 64"}], "mark": {"type": "rect", "color": "#ffffff", "opacity": 0.45}, "encoding": {"x": {"datum": 3.65}, "x2": {"datum": 56}, "y": {"datum": 28.91}, "y2": {"datum": 30.13}}},
        {"data": {"name": "mc"}, "transform": [{"filter": "datum.m == 'cov5' && datum.x == 64"}], "mark": {"type": "text", "font": "Liberation Serif", "fontStyle": "italic", "fontSize": 14.5, "color": "#1a1a1a"}, "encoding": {"x": {"datum": 14.3}, "y": {"datum": 29.5}, "text": {"value": "Worse than Sampling"}}},
        {"data": {"name": "mc"}, "transform": [{"filter": "datum.m == 'cov5'"}], "mark": {"type": "area", "color": "#8c8c8c", "opacity": 0.35}, "encoding": {"y": {"field": "lo", "type": "quantitative"}, "y2": {"field": "hi"}}},
        {"data": {"name": "mc"}, "transform": [{"filter": "datum.m == 'cov5'"}], "mark": {"type": "line", "color": "#a3a3a3", "strokeWidth": 3}, "encoding": {}},
        {"data": {"name": "pts"}, "transform": [{"filter": "datum.m == 'cov5'"}], "mark": {"type": "point", "filled": true, "opacity": 1, "size": 484},
          "encoding": {
            "color": {"field": "s", "type": "nominal", "scale": {"domain": ["MC Sampling", "Mean Network", "Streamlining", "CVP"], "range": ["#a3a3a3", "#545454", "#3d8bff", "#ff2d87"]}, "legend": null},
            "shape": {"field": "s", "type": "nominal", "scale": {"domain": ["MC Sampling", "Mean Network", "Streamlining", "CVP"], "range": ["M-1.35,-0.13H1V0.13H-1.35Z", "M-0.43,-0.43H0.43V0.43H-0.43Z", "M0.53,0A0.53,0.53,0,1,1,-0.53,0A0.53,0.53,0,1,1,0.53,0Z", "M0,-0.72L0.162,-0.222L0.685,-0.222L0.262,0.085L0.423,0.582L0,0.275L-0.423,0.582L-0.262,0.085L-0.685,-0.222L-0.162,-0.222Z"]}, "legend": null}
          }}
      ]
    },
    {
      "width": 201, "height": 128,
      "encoding": {
        "x": {"field": "x", "type": "quantitative", "scale": {"type": "log", "base": 2, "domain": [0.845, 77], "nice": false}, "axis": {"values": [1, 2, 4, 8, 16, 32, 64], "format": "d", "title": ["Wall-clock time per batch", "(equiv. MC samples)"]}},
        "y": {"field": "y", "type": "quantitative", "scale": {"domain": [17.54, 27.33], "nice": false, "zero": false}, "axis": {"values": [18, 20, 22, 24, 26], "format": ".1f", "title": "Φ₁₀", "minExtent": 30, "maxExtent": 30, "titlePadding": 3.5}}
      },
      "layer": [
        {"data": {"name": "pts"}, "transform": [{"filter": "datum.m == 'phi10' && datum.s == 'Mean Network'"}], "mark": {"type": "rect", "color": "#dcedd6"}, "encoding": {"x": {"datum": 0.845}, "x2": {"datum": 77}, "y2": {"datum": 27.33}}},
        {"data": {"name": "mc"}, "transform": [{"filter": "datum.m == 'phi10'"}], "mark": {"type": "area", "color": "#e6e6e6", "opacity": 1}, "encoding": {"y2": {"datum": 17.54}}},
        {"data": {"name": "mc"}, "transform": [{"filter": "datum.m == 'phi10' && datum.x == 64"}], "mark": {"type": "rect", "color": "#e6e6e6"}, "encoding": {"x2": {"datum": 77}, "y2": {"datum": 17.54}}},
        {"data": {"name": "mc"}, "transform": [{"filter": "datum.m == 'phi10' && datum.x == 64"}], "mark": {"type": "rect", "color": "#ffffff", "opacity": 0.45}, "encoding": {"x": {"datum": 3.65}, "x2": {"datum": 56}, "y": {"datum": 18.38}, "y2": {"datum": 19.33}}},
        {"data": {"name": "mc"}, "transform": [{"filter": "datum.m == 'phi10' && datum.x == 64"}], "mark": {"type": "text", "font": "Liberation Serif", "fontStyle": "italic", "fontSize": 14.5, "color": "#1a1a1a"}, "encoding": {"x": {"datum": 14.3}, "y": {"datum": 18.84}, "text": {"value": "Worse than Sampling"}}},
        {"data": {"name": "mc"}, "transform": [{"filter": "datum.m == 'phi10'"}], "mark": {"type": "area", "color": "#8c8c8c", "opacity": 0.35}, "encoding": {"y": {"field": "lo", "type": "quantitative"}, "y2": {"field": "hi"}}},
        {"data": {"name": "mc"}, "transform": [{"filter": "datum.m == 'phi10'"}], "mark": {"type": "line", "color": "#a3a3a3", "strokeWidth": 3}, "encoding": {}},
        {"data": {"name": "pts"}, "transform": [{"filter": "datum.m == 'phi10'"}], "mark": {"type": "point", "filled": true, "opacity": 1, "size": 484},
          "encoding": {
            "color": {"field": "s", "type": "nominal", "scale": {"domain": ["MC Sampling", "Mean Network", "Streamlining", "CVP"], "range": ["#a3a3a3", "#545454", "#3d8bff", "#ff2d87"]}, "legend": null},
            "shape": {"field": "s", "type": "nominal", "scale": {"domain": ["MC Sampling", "Mean Network", "Streamlining", "CVP"], "range": ["M-1.35,-0.13H1V0.13H-1.35Z", "M-0.43,-0.43H0.43V0.43H-0.43Z", "M0.53,0A0.53,0.53,0,1,1,-0.53,0A0.53,0.53,0,1,1,0.53,0Z", "M0,-0.72L0.162,-0.222L0.685,-0.222L0.262,0.085L0.423,0.582L0,0.275L-0.423,0.582L-0.262,0.085L-0.685,-0.222L-0.162,-0.222Z"]}, "legend": null}
          }}
      ]
    },
    {
      "width": 201, "height": 128,
      "encoding": {
        "x": {"field": "x", "type": "quantitative", "scale": {"type": "log", "base": 2, "domain": [0.845, 77], "nice": false}, "axis": {"values": [1, 2, 4, 8, 16, 32, 64], "format": "d", "title": ["Wall-clock time per batch", "(equiv. MC samples)"]}},
        "y": {"field": "y", "type": "quantitative", "scale": {"domain": [5.11, 14.54], "nice": false, "zero": false}, "axis": {"values": [6, 8, 10, 12, 14], "format": ".1f", "title": "Φ₅₀", "minExtent": 29, "maxExtent": 29, "titlePadding": 2}}
      },
      "layer": [
        {"data": {"name": "pts"}, "transform": [{"filter": "datum.m == 'phi50' && datum.s == 'Mean Network'"}], "mark": {"type": "rect", "color": "#dcedd6"}, "encoding": {"x": {"datum": 0.845}, "x2": {"datum": 77}, "y2": {"datum": 14.54}}},
        {"data": {"name": "mc"}, "transform": [{"filter": "datum.m == 'phi50'"}], "mark": {"type": "area", "color": "#e6e6e6", "opacity": 1}, "encoding": {"y2": {"datum": 5.11}}},
        {"data": {"name": "mc"}, "transform": [{"filter": "datum.m == 'phi50' && datum.x == 64"}], "mark": {"type": "rect", "color": "#e6e6e6"}, "encoding": {"x2": {"datum": 77}, "y2": {"datum": 5.11}}},
        {"data": {"name": "mc"}, "transform": [{"filter": "datum.m == 'phi50' && datum.x == 64"}], "mark": {"type": "rect", "color": "#ffffff", "opacity": 0.45}, "encoding": {"x": {"datum": 3.65}, "x2": {"datum": 56}, "y": {"datum": 5.93}, "y2": {"datum": 6.84}}},
        {"data": {"name": "mc"}, "transform": [{"filter": "datum.m == 'phi50' && datum.x == 64"}], "mark": {"type": "text", "font": "Liberation Serif", "fontStyle": "italic", "fontSize": 14.5, "color": "#1a1a1a"}, "encoding": {"x": {"datum": 14.3}, "y": {"datum": 6.37}, "text": {"value": "Worse than Sampling"}}},
        {"data": {"name": "mc"}, "transform": [{"filter": "datum.m == 'phi50'"}], "mark": {"type": "area", "color": "#8c8c8c", "opacity": 0.35}, "encoding": {"y": {"field": "lo", "type": "quantitative"}, "y2": {"field": "hi"}}},
        {"data": {"name": "mc"}, "transform": [{"filter": "datum.m == 'phi50'"}], "mark": {"type": "line", "color": "#a3a3a3", "strokeWidth": 3}, "encoding": {}},
        {"data": {"name": "pts"}, "transform": [{"filter": "datum.m == 'phi50' && isValid(datum.lo)"}], "mark": {"type": "errorbar", "ticks": {"size": 9, "thickness": 1.5}, "rule": {"strokeWidth": 1.5}},
          "encoding": {"y": {"field": "lo", "type": "quantitative"}, "y2": {"field": "hi"},
            "color": {"field": "s", "type": "nominal", "scale": {"domain": ["MC Sampling", "Mean Network", "Streamlining", "CVP"], "range": ["#a3a3a3", "#545454", "#3d8bff", "#ff2d87"]}, "legend": null}}},
        {"data": {"name": "pts"}, "transform": [{"filter": "datum.m == 'phi50'"}], "mark": {"type": "point", "filled": true, "opacity": 1, "size": 484},
          "encoding": {
            "color": {"field": "s", "type": "nominal", "scale": {"domain": ["MC Sampling", "Mean Network", "Streamlining", "CVP"], "range": ["#a3a3a3", "#545454", "#3d8bff", "#ff2d87"]}, "legend": null},
            "shape": {"field": "s", "type": "nominal", "scale": {"domain": ["MC Sampling", "Mean Network", "Streamlining", "CVP"], "range": ["M-1.35,-0.13H1V0.13H-1.35Z", "M-0.43,-0.43H0.43V0.43H-0.43Z", "M0.53,0A0.53,0.53,0,1,1,-0.53,0A0.53,0.53,0,1,1,0.53,0Z", "M0,-0.72L0.162,-0.222L0.685,-0.222L0.262,0.085L0.423,0.582L0,0.275L-0.423,0.582L-0.262,0.085L-0.685,-0.222L-0.162,-0.222Z"]}, "legend": null}
          }}
      ]
    },
    {
      "width": 201, "height": 128,
      "encoding": {
        "x": {"field": "x", "type": "quantitative", "scale": {"type": "log", "base": 2, "domain": [0.845, 77], "nice": false}, "axis": {"values": [1, 2, 4, 8, 16, 32, 64], "format": "d", "title": ["Wall-clock time per batch", "(equiv. MC samples)"]}},
        "y": {"field": "y", "type": "quantitative", "scale": {"domain": [2.63, 10.93], "nice": false, "zero": false}, "axis": {"values": [4, 6, 8, 10], "format": ".1f", "title": "Φ₁₀₀", "minExtent": 29, "maxExtent": 29, "titlePadding": 2}}
      },
      "layer": [
        {"data": {"name": "pts"}, "transform": [{"filter": "datum.m == 'phi100' && datum.s == 'Mean Network'"}], "mark": {"type": "rect", "color": "#dcedd6"}, "encoding": {"x": {"datum": 0.845}, "x2": {"datum": 77}, "y2": {"datum": 10.93}}},
        {"data": {"name": "mc"}, "transform": [{"filter": "datum.m == 'phi100'"}], "mark": {"type": "area", "color": "#e6e6e6", "opacity": 1}, "encoding": {"y2": {"datum": 2.63}}},
        {"data": {"name": "mc"}, "transform": [{"filter": "datum.m == 'phi100' && datum.x == 64"}], "mark": {"type": "rect", "color": "#e6e6e6"}, "encoding": {"x2": {"datum": 77}, "y2": {"datum": 2.63}}},
        {"data": {"name": "mc"}, "transform": [{"filter": "datum.m == 'phi100' && datum.x == 64"}], "mark": {"type": "rect", "color": "#ffffff", "opacity": 0.45}, "encoding": {"x": {"datum": 3.65}, "x2": {"datum": 56}, "y": {"datum": 3.35}, "y2": {"datum": 4.15}}},
        {"data": {"name": "mc"}, "transform": [{"filter": "datum.m == 'phi100' && datum.x == 64"}], "mark": {"type": "text", "font": "Liberation Serif", "fontStyle": "italic", "fontSize": 14.5, "color": "#1a1a1a"}, "encoding": {"x": {"datum": 14.3}, "y": {"datum": 3.74}, "text": {"value": "Worse than Sampling"}}},
        {"data": {"name": "mc"}, "transform": [{"filter": "datum.m == 'phi100'"}], "mark": {"type": "area", "color": "#8c8c8c", "opacity": 0.35}, "encoding": {"y": {"field": "lo", "type": "quantitative"}, "y2": {"field": "hi"}}},
        {"data": {"name": "mc"}, "transform": [{"filter": "datum.m == 'phi100'"}], "mark": {"type": "line", "color": "#a3a3a3", "strokeWidth": 3}, "encoding": {}},
        {"data": {"name": "pts"}, "transform": [{"filter": "datum.m == 'phi100' && isValid(datum.lo)"}], "mark": {"type": "errorbar", "ticks": {"size": 9, "thickness": 1.5}, "rule": {"strokeWidth": 1.5}},
          "encoding": {"y": {"field": "lo", "type": "quantitative"}, "y2": {"field": "hi"},
            "color": {"field": "s", "type": "nominal", "scale": {"domain": ["MC Sampling", "Mean Network", "Streamlining", "CVP"], "range": ["#a3a3a3", "#545454", "#3d8bff", "#ff2d87"]}, "legend": null}}},
        {"data": {"name": "pts"}, "transform": [{"filter": "datum.m == 'phi100'"}], "mark": {"type": "point", "filled": true, "opacity": 1, "size": 484},
          "encoding": {
            "color": {"field": "s", "type": "nominal", "scale": {"domain": ["MC Sampling", "Mean Network", "Streamlining", "CVP"], "range": ["#a3a3a3", "#545454", "#3d8bff", "#ff2d87"]}, "legend": null},
            "shape": {"field": "s", "type": "nominal", "scale": {"domain": ["MC Sampling", "Mean Network", "Streamlining", "CVP"], "range": ["M-1.35,-0.13H1V0.13H-1.35Z", "M-0.43,-0.43H0.43V0.43H-0.43Z", "M0.53,0A0.53,0.53,0,1,1,-0.53,0A0.53,0.53,0,1,1,0.53,0Z", "M0,-0.72L0.162,-0.222L0.685,-0.222L0.262,0.085L0.423,0.582L0,0.275L-0.423,0.582L-0.262,0.085L-0.685,-0.222L-0.162,-0.222Z"]}, "legend": null}
          }}
      ]
    }
  ],
  "config": {
    "font": "Liberation Serif",
    "view": {"stroke": "#262626", "strokeWidth": 1.2},
    "axis": {
      "labelFont": "Liberation Serif", "titleFont": "Liberation Serif",
      "labelFontSize": 15, "titleFontSize": 15, "titleFontWeight": "normal",
      "labelColor": "#1a1a1a", "titleColor": "#1a1a1a",
      "domain": false, "tickColor": "#333333", "tickSize": 3,
      "grid": true, "gridColor": "#c9c9c9", "gridOpacity": 0.55, "gridWidth": 1,
      "zindex": 1
    },
    "axisX": {"labelPadding": 2, "titlePadding": 1, "titleLineHeight": 15.5, "labelFlush": false, "labelOverlap": false},
    "axisY": {"labelPadding": 2, "labelOverlap": false},
    "legend": {"labelFont": "Liberation Serif", "labelColor": "#1a1a1a"},
    "text": {"font": "Liberation Serif"}
  }
}
